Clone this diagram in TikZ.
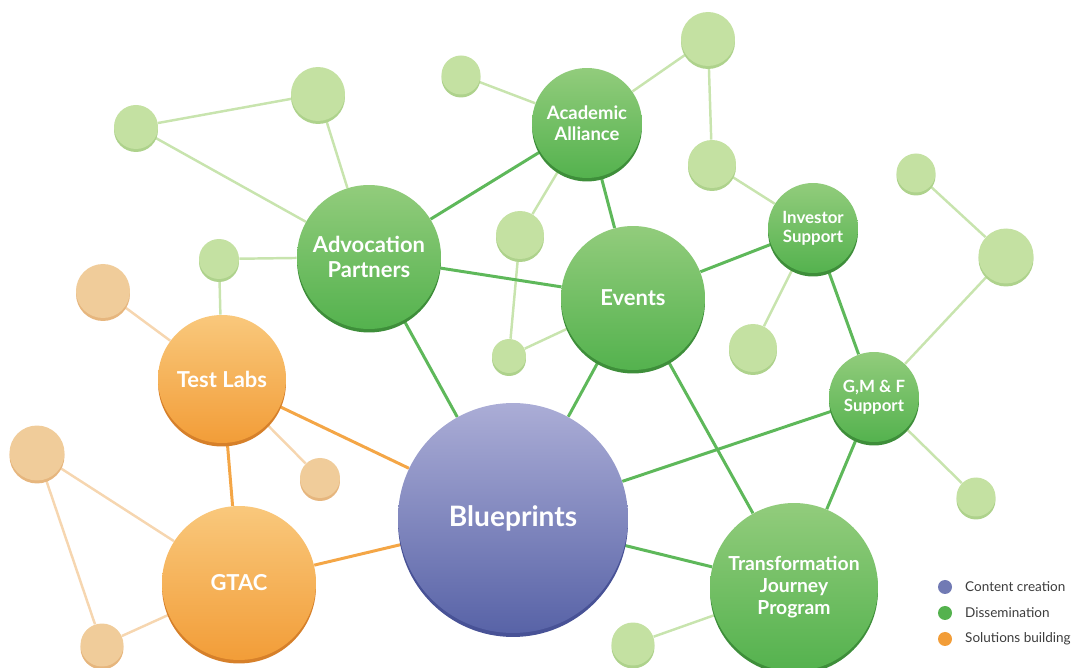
\documentclass[tikz,border=0pt]{standalone}
\usepackage{fontspec}
\setmainfont{Lato}
\usetikzlibrary{shadows,backgrounds}
\definecolor{gtop}{RGB}{146, 204, 124}
\definecolor{gbot}{RGB}{84, 178, 78}
\definecolor{grim}{RGB}{62, 142, 58}
\definecolor{btop}{RGB}{171, 173, 214}
\definecolor{bbot}{RGB}{88, 99, 167}
\definecolor{brim}{RGB}{72, 82, 150}
\definecolor{otop}{RGB}{249, 200, 124}
\definecolor{obot}{RGB}{242, 157, 56}
\definecolor{orim}{RGB}{214, 128, 42}
\definecolor{lgfill}{RGB}{196, 225, 162}
\definecolor{lgrim}{RGB}{174, 210, 140}
\definecolor{lofill}{RGB}{240, 204, 154}
\definecolor{lorim}{RGB}{230, 182, 126}
\definecolor{gline}{RGB}{94, 184, 90}
\definecolor{oline}{RGB}{244, 166, 70}
\definecolor{lgline}{RGB}{200, 228, 174}
\definecolor{loline}{RGB}{246, 214, 176}
\definecolor{legtext}{RGB}{60, 60, 60}

\begin{document}
\begin{tikzpicture}[
        x=0.02cm, y=-0.02cm,
        hub/.style={circle, inner sep=0pt, align=center, text=white},
        greenhub/.style={hub, top color=gtop, bottom color=gbot, general shadow={fill=grim, shadow yshift=-0.07cm}},
        bluehub/.style={hub, top color=btop, bottom color=bbot, general shadow={fill=brim, shadow yshift=-0.08cm}},
        orangehub/.style={hub, top color=otop, bottom color=obot, general shadow={fill=orim, shadow yshift=-0.07cm}},
        gleaf/.style={circle, inner sep=0pt, fill=lgfill, general shadow={fill=lgrim, shadow yshift=-0.06cm}},
        oleaf/.style={circle, inner sep=0pt, fill=lofill, general shadow={fill=lorim, shadow yshift=-0.06cm}},
        gedge/.style={draw=gline, line width=1.7pt},
        oedge/.style={draw=oline, line width=1.7pt},
        lgedge/.style={draw=lgline, line width=1.4pt},
        loedge/.style={draw=loline, line width=1.4pt},
        legdot/.style={circle, inner sep=0pt, minimum size=0.28cm},
        legtxt/.style={anchor=west, text=legtext, font=\fontsize{7.7}{8.5}\selectfont}
    ]
        \useasboundingbox (0,0) rectangle (1073,668);

        % Hubs
        \node[bluehub, minimum size=4.6cm, font=\bfseries\fontsize{16}{18}\selectfont] (bp) at (513,518) {Blueprints};
        \node[orangehub, minimum size=3.08cm, font=\bfseries\fontsize{12.5}{14}\selectfont] (gtac) at (239,583) {GTAC};
        \node[orangehub, minimum size=2.56cm, font=\bfseries\fontsize{12.5}{14}\selectfont] (labs) at (222,379) {Test Labs};
        \node[greenhub, minimum size=2.88cm, font=\bfseries\fontsize{12.5}{14.2}\selectfont] (advo) at (369,257) {Advocation\\Partners};
        \node[greenhub, minimum size=2.2cm, font=\bfseries\fontsize{10.5}{12}\selectfont] (acad) at (587,123) {Academic\\Alliance};
        \node[greenhub, minimum size=2.88cm, font=\bfseries\fontsize{12.5}{14}\selectfont] (events) at (633,298) {Events};
        \node[greenhub, minimum size=1.8cm, font=\bfseries\fontsize{9.6}{11}\selectfont] (invest) at (813,228) {Investor\\Support};
        \node[greenhub, minimum size=1.8cm, font=\bfseries\fontsize{9.6}{11}\selectfont] (gmf) at (874,397) {G,M \& F\\Support};
        \node[greenhub, minimum size=3.36cm, font=\bfseries\fontsize{11}{12.6}\selectfont] (tjp) at (794,587) {Transformation\\Journey\\Program};

        % Leaves
        \node[gleaf, minimum size=0.88cm] (l1) at (136,127) {};
        \node[gleaf, minimum size=1.08cm] (l2) at (318,94) {};
        \node[gleaf, minimum size=0.8cm] (l3) at (219,259) {};
        \node[gleaf, minimum size=0.78cm] (l4) at (461,75) {};
        \node[gleaf, minimum size=1.08cm] (l5) at (708,39) {};
        \node[gleaf, minimum size=0.96cm] (l6) at (712,164) {};
        \node[gleaf, minimum size=0.96cm] (l7) at (520,235) {};
        \node[gleaf, minimum size=0.68cm] (l8) at (509,356) {};
        \node[gleaf, minimum size=0.96cm] (l9) at (753,348) {};
        \node[gleaf, minimum size=0.78cm] (l10) at (916,173) {};
        \node[gleaf, minimum size=1.1cm] (l11) at (1006,256) {};
        \node[gleaf, minimum size=0.78cm] (l12) at (976,497) {};
        \node[gleaf, minimum size=0.86cm] (l13) at (633,644) {};
        \node[oleaf, minimum size=1.08cm] (o1) at (103,291) {};
        \node[oleaf, minimum size=0.8cm] (o2) at (320,478) {};
        \node[oleaf, minimum size=1.1cm] (o3) at (37,453) {};
        \node[oleaf, minimum size=0.86cm] (o4) at (102,645) {};

        % Connectors
        \begin{scope}[on background layer]
            \draw[lgedge] (l1) -- (l2);
            \draw[lgedge] (l1) -- (advo);
            \draw[lgedge] (l2) -- (advo);
            \draw[lgedge] (l3) -- (advo);
            \draw[lgedge] (l3) -- (labs);
            \draw[lgedge] (l4) -- (acad);
            \draw[lgedge] (acad) -- (l5);
            \draw[lgedge] (l5) -- (l6);
            \draw[lgedge] (l6) -- (invest);
            \draw[lgedge] (acad) -- (l7);
            \draw[lgedge] (l7) -- (l8);
            \draw[lgedge] (l8) -- (events);
            \draw[lgedge] (invest) -- (l9);
            \draw[lgedge] (l10) -- (l11);
            \draw[lgedge] (l11) -- (gmf);
            \draw[lgedge] (gmf) -- (l12);
            \draw[lgedge] (l13) -- (tjp);
            \draw[loedge] (o1) -- (labs);
            \draw[loedge] (labs) -- (o2);
            \draw[loedge] (o3) -- (gtac);
            \draw[loedge] (o3) -- (o4);
            \draw[loedge] (o4) -- (gtac);
            \draw[gedge] (advo) -- (acad);
            \draw[gedge] (advo) -- (events);
            \draw[gedge] (advo) -- (bp);
            \draw[gedge] (acad) -- (events);
            \draw[gedge] (events) -- (invest);
            \draw[gedge] (events) -- (bp);
            \draw[gedge] (events) -- (tjp);
            \draw[gedge] (invest) -- (gmf);
            \draw[gedge] (gmf) -- (bp);
            \draw[gedge] (gmf) -- (tjp);
            \draw[gedge] (bp) -- (tjp);
            \draw[oedge] (labs) -- (bp);
            \draw[oedge] (labs) -- (gtac);
            \draw[oedge] (gtac) -- (bp);
        \end{scope}

        % Legend
        \node[legdot, fill=bbot!85] (k1) at (945,587) {};
        \node[legdot, fill=gbot] (k2) at (945,613) {};
        \node[legdot, fill=obot] (k3) at (945,639) {};
        \node[legtxt] (t1) at (959,587) {Content creation};
        \node[legtxt] (t2) at (959,613) {Dissemination};
        \node[legtxt] (t3) at (959,639) {Solutions building};
    \end{tikzpicture}
\end{document}
